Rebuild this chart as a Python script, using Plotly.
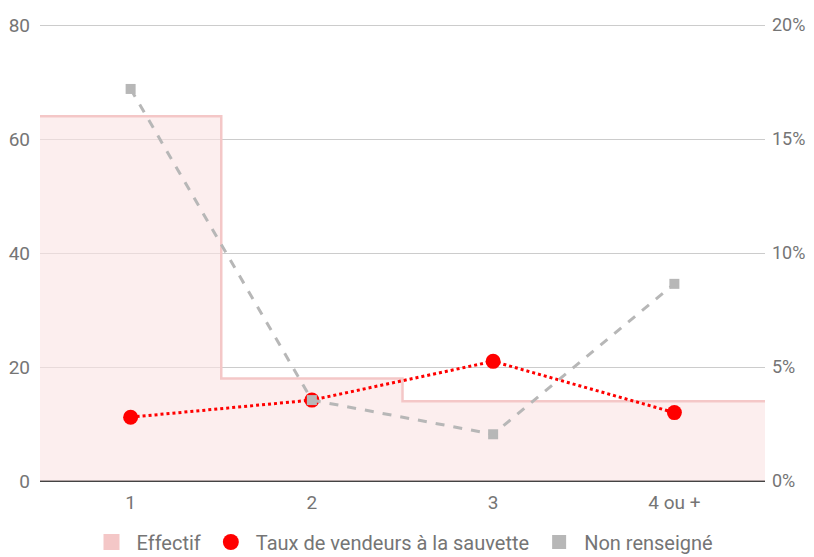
import plotly.graph_objects as go

categories = ["1", "2", "3", "4 ou +"]
effectif = [64, 18, 14, 14]
taux_vendeurs = [2.8, 3.55, 5.25, 3.0]      # %
non_renseigne = [17.2, 3.55, 2.05, 8.65]    # %

left_ticks = [0, 20, 40, 60, 80]
right_ticks = [0, 5, 10, 15, 20]
right_labels = [f"{v}%" for v in right_ticks]

n = len(categories)
idx = list(range(n))
edges = [i - 0.5 for i in idx] + [n - 0.5]
step_vals = effectif + [effectif[-1]]

font_color = "#757575"
pink_line = "#f4c7c7"
red = "#ff0000"
grey = "#b7b7b7"

fig = go.Figure()

fig.add_trace(go.Scatter(
    x=edges, y=step_vals, name="Effectif", mode="lines",
    line=dict(shape="hv", color=pink_line, width=2.5),
    fill="tozeroy", fillcolor="rgba(250,226,226,0.6)",
    yaxis="y", hoverinfo="skip", showlegend=False))

fig.add_trace(go.Scatter(
    x=idx, y=taux_vendeurs, name="Taux de vendeurs à la sauvette",
    mode="lines+markers",
    line=dict(color=red, width=3, dash="dot"),
    marker=dict(color=red, size=15, symbol="circle"),
    yaxis="y2", showlegend=False))

fig.add_trace(go.Scatter(
    x=idx, y=non_renseigne, name="Non renseigné",
    mode="lines+markers",
    line=dict(color=grey, width=3, dash="dash"),
    marker=dict(color=grey, size=10, symbol="square"),
    yaxis="y2", showlegend=False))

# legend-only entries (symbols without lines, as in the reference)
for name, color, sym, size in [
        ("Effectif", pink_line, "square", 19),
        ("Taux de vendeurs à la sauvette", red, "circle", 20),
        ("Non renseigné", grey, "square", 14)]:
    fig.add_trace(go.Scatter(
        x=[None], y=[None], name=name, mode="markers",
        marker=dict(color=color, size=size, symbol=sym),
        showlegend=True))

# page body has an 8px margin; figure sized/offset accordingly
fig.update_layout(
    width=806, height=549,
    margin=dict(l=32, r=49, t=16, b=76, autoexpand=False),
    paper_bgcolor="white", plot_bgcolor="white",
    font=dict(family="Roboto", size=20, color=font_color),
    xaxis=dict(
        range=[-0.5, n - 0.5], tickmode="array", tickvals=idx,
        ticktext=categories, showgrid=False, zeroline=False,
        showline=False, ticks="", ticklabelstandoff=8, automargin=False,
        tickfont=dict(size=19, color=font_color)),
    yaxis=dict(
        range=[0, 80.2], tickmode="array", tickvals=left_ticks,
        showgrid=True, gridcolor="#cccccc", gridwidth=1, zeroline=True,
        zerolinecolor="#444444", zerolinewidth=2, showline=False,
        ticks="", ticklabelstandoff=9, automargin=False,
        tickfont=dict(size=19, color=font_color)),
    yaxis2=dict(
        range=[0, 20.05], tickmode="array", tickvals=right_ticks,
        ticktext=right_labels,
        overlaying="y", side="right", showgrid=False, zeroline=False,
        showline=False, ticks="", ticklabelstandoff=6, automargin=False,
        tickfont=dict(size=18, color=font_color)),
    legend=dict(
        orientation="h", x=0.5, xanchor="center", y=-0.1335, yanchor="middle",
        font=dict(size=20, color=font_color), itemwidth=40,
        traceorder="normal"),
    showlegend=True,
)

fig.write_html("out.html")
